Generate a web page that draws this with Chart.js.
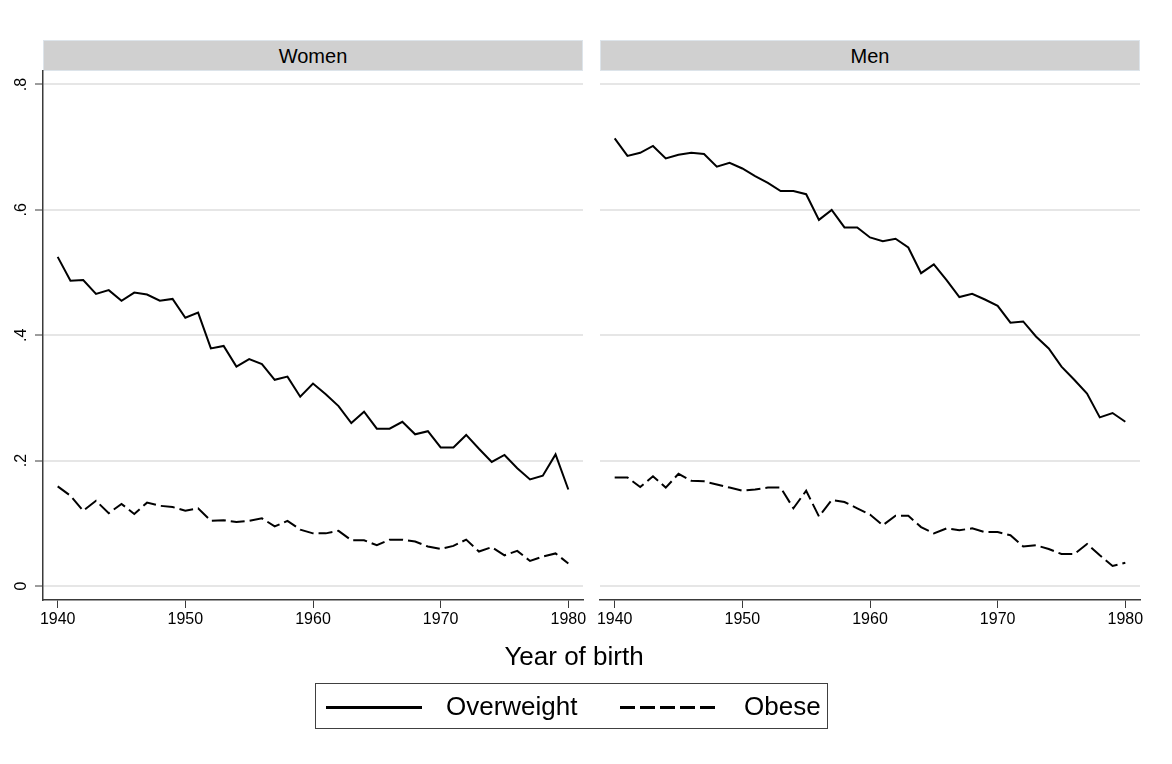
<!DOCTYPE html>
<html>
<head>
<meta charset="utf-8">
<script src="https://cdn.jsdelivr.net/npm/chart.js@4.4.1/dist/chart.umd.min.js"></script>
<style>
  body { margin: 0; background: #fff; width: 1172px; height: 764px; position: relative; overflow: hidden; font-family: "Liberation Sans", Arial, sans-serif; color: #000; }
  canvas { position: absolute; }
  .strip { position: absolute; top: 40px; height: 31px; background: #d0d0d0; border: 1px solid #dde4ea; text-align: center; line-height: 30px; font-size: 20px; box-sizing: border-box; }
  .xtitle { position: absolute; left: 374px; width: 400px; top: 641px; text-align: center; font-size: 26px; }
  .legend { position: absolute; left: 315px; top: 683px; width: 513px; height: 46px; border: 1px solid #404040; box-sizing: border-box; font-size: 26px; }
  .legend .sample { position: absolute; top: 22px; width: 96px; height: 0; border-top: 3px solid #000; }
  .legend .dash { border-top: none; height: 3px; background: repeating-linear-gradient(to right, #000 0 15px, transparent 15px 20px); }
  .legend span { position: absolute; top: 7px; }
</style>
</head>
<body>
<div class="strip" style="left:43px;width:540px;">Women</div>
<div class="strip" style="left:600px;width:540px;">Men</div>
<canvas id="women" width="590" height="589" style="left:0;top:61px;"></canvas>
<canvas id="men" width="557" height="589" style="left:590px;top:61px;"></canvas>
<div class="xtitle">Year of birth</div>
<div class="legend">
  <div class="sample" style="left:10px;"></div><span style="left:130px;">Overweight</span>
  <div class="sample dash" style="left:304px;"></div><span style="left:428px;">Obese</span>
</div>
<script>
const years = [1940, 1941, 1942, 1943, 1944, 1945, 1946, 1947, 1948, 1949,
  1950, 1951, 1952, 1953, 1954, 1955, 1956, 1957, 1958, 1959,
  1960, 1961, 1962, 1963, 1964, 1965, 1966, 1967, 1968, 1969,
  1970, 1971, 1972, 1973, 1974, 1975, 1976, 1977, 1978, 1979, 1980];

const womenOverweight = [0.525, 0.487, 0.488, 0.466, 0.472, 0.455, 0.468, 0.465, 0.455, 0.458,
  0.428, 0.436, 0.379, 0.383, 0.350, 0.362, 0.354, 0.329, 0.334, 0.302,
  0.323, 0.306, 0.287, 0.260, 0.278, 0.251, 0.251, 0.262, 0.242, 0.247,
  0.221, 0.221, 0.241, 0.219, 0.198, 0.209, 0.188, 0.170, 0.176, 0.210, 0.154];
const womenObese = [0.159, 0.144, 0.120, 0.136, 0.116, 0.131, 0.115, 0.133, 0.128, 0.126,
  0.120, 0.124, 0.104, 0.105, 0.102, 0.104, 0.108, 0.095, 0.104, 0.090,
  0.084, 0.084, 0.088, 0.073, 0.073, 0.065, 0.074, 0.074, 0.071, 0.063,
  0.059, 0.064, 0.074, 0.055, 0.062, 0.049, 0.056, 0.040, 0.047, 0.052, 0.036];
const menOverweight = [0.714, 0.686, 0.691, 0.702, 0.682, 0.688, 0.691, 0.689, 0.669, 0.675,
  0.666, 0.654, 0.643, 0.630, 0.630, 0.625, 0.584, 0.600, 0.572, 0.572,
  0.556, 0.550, 0.554, 0.540, 0.499, 0.513, 0.488, 0.461, 0.466, 0.457,
  0.447, 0.420, 0.422, 0.398, 0.379, 0.350, 0.329, 0.307, 0.269, 0.276, 0.262];
const menObese = [0.173, 0.173, 0.158, 0.175, 0.157, 0.179, 0.168, 0.167, 0.162, 0.157,
  0.152, 0.154, 0.157, 0.157, 0.124, 0.152, 0.111, 0.137, 0.134, 0.124,
  0.114, 0.097, 0.112, 0.112, 0.094, 0.084, 0.092, 0.089, 0.092, 0.086,
  0.086, 0.081, 0.063, 0.065, 0.059, 0.051, 0.051, 0.067, 0.049, 0.032, 0.037];

const xTicks = [1940, 1950, 1960, 1970, 1980];
const yTicks = [0, 0.2, 0.4, 0.6, 0.8];
const yTickLabels = ['0', '.2', '.4', '.6', '.8'];

const axisColor = '#3a3a3a';
const gridColor = '#e6e6e6';
const font = { family: '"Liberation Sans", Arial, sans-serif', size: 16 };

const toPoints = vals => years.map((yr, i) => ({ x: yr, y: vals[i] }));

function makePanel(canvasId, overweight, obese, showY) {
  const data = {
    datasets: [
      {
        label: 'Overweight',
        data: toPoints(overweight),
        borderColor: '#000',
        borderWidth: 2,
        pointRadius: 0,
        tension: 0,
      },
      {
        label: 'Obese',
        data: toPoints(obese),
        borderColor: '#000',
        borderWidth: 2,
        borderDash: [14, 5],
        pointRadius: 0,
        tension: 0,
      },
    ],
  };

  return new Chart(document.getElementById(canvasId), {
    type: 'line',
    data,
    options: {
      responsive: false,
      animation: false,
      events: [],
      layout: { padding: { top: 10, right: 7, left: 0, bottom: 0 } },
      plugins: { legend: { display: false }, tooltip: { enabled: false } },
      scales: {
        x: {
          type: 'linear',
          min: 1938.85,
          max: 1981.15,
          afterBuildTicks: s => { s.ticks = xTicks.map(v => ({ value: v })); },
          afterFit: s => { s.height = 50; },
          ticks: { color: '#000', font, padding: 2, maxRotation: 0, callback: v => String(v) },
          grid: { drawOnChartArea: false, drawTicks: true, tickLength: 8, tickColor: axisColor, tickWidth: 1 },
          border: { display: true, color: axisColor, width: 1.5 },
        },
        y: {
          min: -0.0223,
          max: 0.8215,
          afterBuildTicks: s => { s.ticks = yTicks.map(v => ({ value: v })); },
          // fixed axis width, and no extra room for the rotated end labels
          afterFit: s => {
            s.width = showY ? 43 : 10;
            s.paddingTop = 0;
            s.paddingBottom = 0;
          },
          ticks: {
            display: showY,
            color: '#000',
            font,
            padding: 7,
            minRotation: 90,
            maxRotation: 90,
            crossAlign: 'center',
            callback: v => yTickLabels[yTicks.indexOf(v)],
          },
          grid: {
            color: gridColor,
            lineWidth: 2,
            drawTicks: showY,
            tickLength: 8,
            tickColor: axisColor,
            tickWidth: 1,
          },
          border: { display: showY, color: axisColor, width: 1.5 },
        },
      },
    },
  });
}

makePanel('women', womenOverweight, womenObese, true);
makePanel('men', menOverweight, menObese, false);
</script>
</body>
</html>
